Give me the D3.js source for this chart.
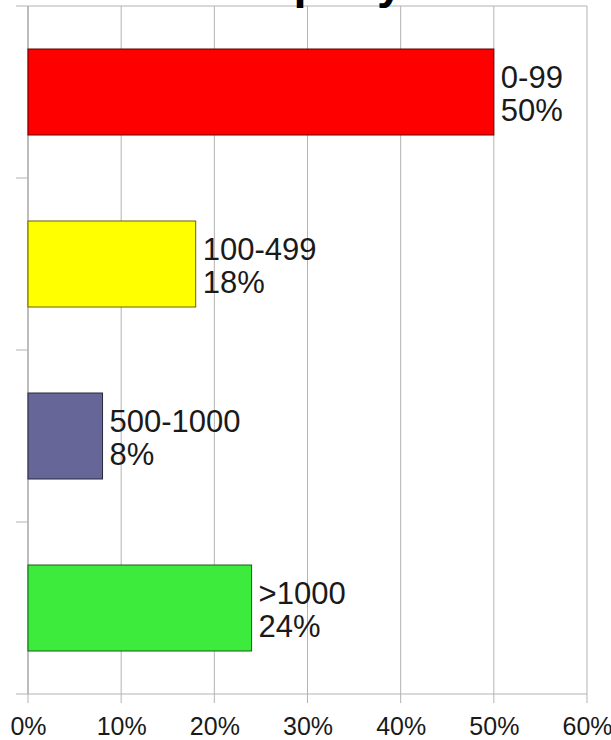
<!DOCTYPE html>
<html>
<head>
<meta charset="utf-8">
<script src="https://cdn.jsdelivr.net/npm/d3@7"></script>
<style>
  body { margin: 0; background: #fff; }
  svg { display: block; font-family: "Liberation Sans", Arial, sans-serif; }
</style>
</head>
<body>
<script>
// chart data
const titleText = "Company size";
const categories = ["0-99", "100-499", "500-1000", ">1000"];
const shares = [50, 18, 8, 24];
const barColors = ["#ff0000", "#ffff00", "#666699", "#3deb3d"];
const xTickValues = [0, 10, 20, 30, 40, 50, 60];

document.addEventListener('DOMContentLoaded', function(){
  var margin = {top: 6, right: 24, bottom: 46, left: 28},
      width = 611 - margin.left - margin.right,
      height = 740 - margin.top - margin.bottom;

  const svg = d3.select("body")
    .append("svg")
    .attr("width", 611)
    .attr("height", 740);

  const g = svg.append("g")
    .attr("transform", "translate(" + margin.left + "," + margin.top + ")");

  const xScale = d3.scaleLinear()
    .domain([0, 60])
    .range([0, width]);

  const yScale = d3.scaleBand()
    .domain(categories)
    .range([0, height])
    .paddingInner(0.5)
    .paddingOuter(0.25);

  const gridColor = "#b3b3b3";

  // vertical grid lines, running a bit below the axis as tick marks
  g.append("g")
    .selectAll("line")
    .data(xTickValues)
    .enter().append("line")
    .attr("x1", d => xScale(d))
    .attr("x2", d => xScale(d))
    .attr("y1", 0)
    .attr("y2", height + 9)
    .attr("stroke", gridColor)
    .attr("stroke-width", 1);

  // category boundaries as ticks on the left, plus top and bottom lines
  const step = yScale.step();
  const bounds = d3.range(categories.length + 1).map(i => i * step);
  g.append("g")
    .selectAll("line")
    .data(bounds)
    .enter().append("line")
    .attr("x1", -12)
    .attr("x2", (d, i) => (i == 0 || i == categories.length) ? width : 0)
    .attr("y1", d => d)
    .attr("y2", d => d)
    .attr("stroke", gridColor)
    .attr("stroke-width", 1);

  // left axis line
  g.append("line")
    .attr("x1", 0).attr("x2", 0)
    .attr("y1", 0).attr("y2", height)
    .attr("stroke", gridColor)
    .attr("stroke-width", 1.5);

  // x axis labels
  g.append("g")
    .attr("transform", "translate(0," + height + ")")
    .call(d3.axisBottom(xScale)
      .tickValues(xTickValues)
      .tickSize(0)
      .tickPadding(0)
      .tickFormat(d => d + "%"))
    .call(ax => ax.select(".domain").remove())
    .selectAll("text")
    .attr("dy", null)
    .attr("y", 41)
    .attr("fill", "#1a1a1a")
    .style("font-size", "25px")
    .style("font-family", "'Liberation Sans', Arial, sans-serif");

  // bars
  g.selectAll(".bar")
    .data(categories)
    .enter().append("rect")
    .attr("class", "bar")
    .attr("x", 0)
    .attr("y", d => yScale(d))
    .attr("width", (d, i) => xScale(shares[i]))
    .attr("height", yScale.bandwidth())
    .attr("fill", (d, i) => barColors[i])
    .attr("stroke", (d, i) => d3.color(barColors[i]).darker(2.6))
    .attr("stroke-width", 1);

  // two-line data labels
  const labels = g.selectAll(".lbl")
    .data(categories)
    .enter().append("text")
    .attr("class", "lbl")
    .attr("fill", "#1a1a1a")
    .style("font-size", "31px");

  labels.append("tspan")
    .attr("x", (d, i) => xScale(shares[i]) + 7)
    .attr("y", d => yScale(d) + yScale.bandwidth() / 2 - 4)
    .text(d => d);

  labels.append("tspan")
    .attr("x", (d, i) => xScale(shares[i]) + 7)
    .attr("y", d => yScale(d) + yScale.bandwidth() / 2 + 29)
    .text((d, i) => shares[i] + "%");

  // title, mostly cut off above the top edge
  svg.append("text")
    .attr("x", 189)
    .attr("y", -2)
    .attr("fill", "#000")
    .style("font-size", "47px")
    .style("font-weight", "bold")
    .text(titleText);
});
</script>
</body>
</html>
